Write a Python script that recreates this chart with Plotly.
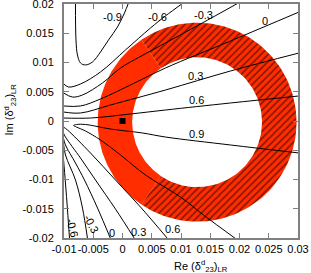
import numpy as np
import plotly.graph_objects as go

# ---- axis ticks ----
x_tickvals = [-0.01, -0.005, 0, 0.005, 0.01, 0.015, 0.02, 0.025, 0.03]
x_ticktext = ["-0.01", "-0.005", "0", "0.005", "0.01", "0.015", "0.02", "0.025", "0.03"]
y_tickvals = [-0.02, -0.015, -0.01, -0.005, 0, 0.005, 0.01, 0.015, 0.02]
y_ticktext = ["-0.02", "-0.015", "-0.01", "-0.005", "0", "0.005", "0.01", "0.015", "0.02"]

# ---- allowed ring ----
ring_center = (0.01275, -0.0002)
ring_r_in = 0.0111
ring_r_out = 0.0170
hatch_edge_deg = 124  # hatched part: angles within +-124 deg of +x direction

# ---- contour lines ----
m09_x = [-0.00804, -0.00795, -0.0077, -0.00718, -0.00633, -0.00513, -0.00376, -0.00239, -0.00086, 0.00034, 0.00103]
m09_y = [0.0202, 0.01385, 0.01129, 0.00992, 0.00958, 0.01009, 0.0118, 0.01385, 0.01607, 0.01847, 0.0202]

m06u_x = [-0.0101, -0.00923, -0.00718, -0.00376, 0.00051, 0.00479, 0.00735, 0.01026]
m06u_y = [0.0064, 0.00581, 0.00633, 0.00838, 0.01214, 0.0159, 0.01796, 0.0201]

m03u_x = [-0.0101, -0.00855, -0.00684, -0.00342, -0.00034, 0.00291, 0.00735, 0.01334, 0.01967]
m03u_y = [0.0048, 0.0041, 0.00445, 0.0065, 0.00906, 0.01094, 0.01334, 0.01659, 0.0201]

p00u_x = [-0.0101, -0.00718, -0.00376, 0.00137, 0.00735, 0.01847, 0.0302]
p00u_y = [0.00257, 0.00257, 0.00376, 0.00616, 0.00906, 0.01368, 0.01864]

p03u_x = [-0.0101, -0.00718, -0.00205, 0.00735, 0.01847, 0.0302]
p03u_y = [0.00154, 0.00137, 0.00274, 0.0053, 0.00855, 0.01163]

p06u_x = [-0.0101, -0.00547, 0.00137, 0.00735, 0.01847, 0.0302]
p06u_y = [0.00051, 0.00051, 0.0012, 0.00188, 0.00308, 0.00428]

p09_x = [0.01932, 0.01385, 0.00992, 0.00393, -0.00034, -0.00376, -0.00633, -0.00787, -0.00838,
         -0.00787, -0.00633, -0.00205, 0.00342, 0.00735, 0.01847, 0.0302]
p09_y = [-0.0201, -0.01607, -0.013, -0.00923, -0.00581, -0.00325, -0.00171, -0.00103, -0.00077,
         -0.0006, -0.0006, -0.00137, -0.00205, -0.00274, -0.0041, -0.00547]

p06l_x = [-0.0101, -0.0094, -0.00547, -0.0012, 0.00308, 0.0077]
p06l_y = [-0.00103, -0.00154, -0.00547, -0.01009, -0.01471, -0.0201]

p03l_x = [-0.0101, -0.00975, -0.00718, -0.00462, -0.0012, 0.00205]
p03l_y = [-0.00205, -0.00274, -0.00633, -0.01009, -0.01505, -0.0201]

p00l_x = [-0.0101, -0.00975, -0.00804, -0.0065, -0.00427, -0.00205]
p00l_y = [-0.00291, -0.0041, -0.00718, -0.01009, -0.01488, -0.0201]

m03l_x = [-0.0101, -0.00975, -0.00804, -0.00684, -0.00598]
m03l_y = [-0.00376, -0.00581, -0.01009, -0.01488, -0.0201]

m06l_x = [-0.0101, -0.00975, -0.0094, -0.00906]
m06l_y = [-0.00633, -0.0106, -0.01522, -0.0201]

contours = [(m09_x, m09_y), (m06u_x, m06u_y), (m03u_x, m03u_y), (p00u_x, p00u_y),
            (p03u_x, p03u_y), (p06u_x, p06u_y), (p09_x, p09_y), (p06l_x, p06l_y),
            (p03l_x, p03l_y), (p00l_x, p00l_y), (m03l_x, m03l_y), (m06l_x, m06l_y)]

# ---- contour labels ----
lab_text = ["-0.9", "-0.6", "-0.3", "0", "0.3", "0.6", "0.9", "-0.6", "-0.3", "0", "0.3", "0.6"]
lab_x = [-0.00171, 0.0060, 0.01385, 0.02428, 0.01248, 0.01265, 0.01265, -0.00855, -0.0053, -0.00188, 0.00274, 0.00855]
lab_y = [0.01778, 0.01778, 0.01813, 0.0171, 0.0077, 0.00359, -0.00222, -0.0183, -0.01761, -0.01915, -0.01898, -0.01847]
lab_angle = [0, 0, 0, 0, 0, 0, 0, 75, 62, 0, 0, 0]

# ---- marked point ----
pt_x = [0.0]
pt_y = [0.0]

RED = "#FF2D00"
FONT = "Liberation Sans, Arial, Helvetica, sans-serif"


def sector(a0, a1, n=120):
    a = np.radians(np.linspace(a0, a1, n))
    cx, cy = ring_center
    xo = cx + ring_r_out * np.cos(a)
    yo = cy + ring_r_out * np.sin(a)
    xi = cx + ring_r_in * np.cos(a[::-1])
    yi = cy + ring_r_in * np.sin(a[::-1])
    xs = np.concatenate([xo, xi, xo[:1]])
    ys = np.concatenate([yo, yi, yo[:1]])
    return xs, ys


fig = go.Figure()

sx, sy = sector(hatch_edge_deg, 360 - hatch_edge_deg)
fig.add_trace(go.Scatter(x=sx, y=sy, mode="lines", fill="toself", fillcolor=RED,
                         line=dict(width=0, color=RED), hoverinfo="skip", showlegend=False))

hx, hy = sector(-hatch_edge_deg, hatch_edge_deg)
fig.add_trace(go.Scatter(x=hx, y=hy, mode="lines", fill="toself", fillcolor=RED,
                         fillpattern=dict(shape="/", bgcolor=RED, fgcolor="black",
                                          size=5, solidity=0.3),
                         line=dict(width=0, color=RED), hoverinfo="skip", showlegend=False))

for cx_, cy_ in contours:
    fig.add_trace(go.Scatter(x=cx_, y=cy_, mode="lines", line=dict(color="black", width=1),
                             line_shape="spline", hoverinfo="skip", showlegend=False))

fig.add_trace(go.Scatter(x=pt_x, y=pt_y, mode="markers",
                         marker=dict(symbol="square", size=6, color="black"),
                         showlegend=False))

for t, x, y, ang in zip(lab_text, lab_x, lab_y, lab_angle):
    fig.add_annotation(x=x, y=y, text=t, showarrow=False, textangle=ang,
                       font=dict(family=FONT, size=11, color="black"))

fig.add_annotation(xref="paper", yref="paper", x=0.584, y=-0.12,
                   xanchor="center", yanchor="middle",
                   text="Re (δ<sup>d</sup><sub>23</sub>)<sub>LR</sub>", showarrow=False,
                   font=dict(family=FONT, size=11, color="black"))
fig.add_annotation(xref="paper", yref="paper", x=-0.23, y=0.55, textangle=-90,
                   xanchor="center", yanchor="middle",
                   text="Im (δ<sup>d</sup><sub>23</sub>)<sub>LR</sub>", showarrow=False,
                   font=dict(family=FONT, size=11, color="black"))

axis_common = dict(showline=True, linecolor="#808080", linewidth=2, mirror="ticks",
                   ticks="inside", ticklen=5, tickwidth=1, tickcolor="#808080",
                   showgrid=False, zeroline=False, automargin=False, tickangle=0,
                   tickfont=dict(family=FONT, size=11, color="black"))

fig.update_layout(
    width=311, height=273,
    margin=dict(l=64, r=13, t=4, b=35),
    plot_bgcolor="white", paper_bgcolor="white",
    xaxis=dict(range=[-0.01, 0.03], tickvals=x_tickvals, ticktext=x_ticktext, **axis_common),
    yaxis=dict(range=[-0.02, 0.02], tickvals=y_tickvals, ticktext=y_ticktext,
               ticklabelstandoff=6, **axis_common),
)

fig.write_html("out.html", config={"displayModeBar": False},
               post_script="document.body.style.margin='0px';")
